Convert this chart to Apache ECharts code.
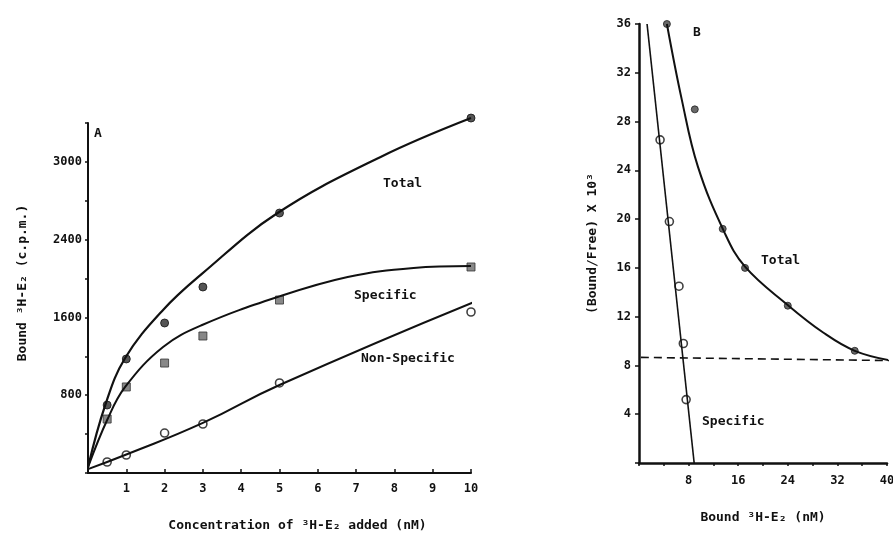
<!DOCTYPE html>
<html>
<head>
<meta charset="utf-8">
<script src="https://cdn.jsdelivr.net/npm/echarts@6/dist/echarts.min.js"></script>
<style>html,body{margin:0;background:#fff}</style>
</head>
<body>
<div id="main" style="width:893px;height:534px;"></div>
<script>
// ---- panel A : bound 3H-E2 (c.p.m.) vs concentration added (nM)
var concA = [0.5, 1, 2, 3, 5, 10];
var totalA = [699, 1173, 1543, 1913, 2674, 3651];
var specificA = [555, 885, 1131, 1409, 1779, 2119];
var nonSpecificA = [113, 185, 411, 504, 926, 1656];

// fitted curves as drawn in the figure
var totalCurveAX = [0, 0.45, 0.97, 1.96, 2.98, 4.95, 7.64, 10];
var totalCurveAY = [60, 699, 1183, 1677, 2050, 2674, 3251, 3651];
var specCurveAX = [0, 0.5, 0.97, 1.96, 2.98, 4.95, 6.78, 8.5, 10];
var specCurveAY = [60, 545, 885, 1296, 1522, 1810, 2016, 2109, 2129];
var nonSpecLineAX = [0, 1, 3, 5, 10.08];
var nonSpecLineAY = [40, 190, 515, 905, 1759];

var xTicksA = [1, 2, 3, 4, 5, 6, 7, 8, 9, 10];
var yTickValsA = [800, 1600, 2400, 3200];
var yTickLabelsA = ['800', '1600', '2400', '3000'];

// ---- panel B : Scatchard plot
var totalBX = [4.5, 9.0, 13.5, 17.1, 24.0, 34.8];
var totalBY = [36.0, 29.0, 19.2, 16.0, 12.9, 9.2];
var specBX = [3.4, 4.9, 6.45, 7.15, 7.6];
var specBY = [26.5, 19.8, 14.5, 9.8, 5.2];

var totalCurveBX = [4.5, 6.9, 9.5, 13.7, 17.1, 24.0, 29.7, 34.8, 40.7];
var totalCurveBY = [36.0, 29.8, 24.3, 19.0, 16.1, 12.95, 10.7, 9.2, 8.4];
var specLineBX = [1.3, 8.9];
var specLineBY = [36, 0];
var nonSpecLevelBX = [0.3, 40.8];
var nonSpecLevelBY = [8.66, 8.4];

var xTickLabelsB = [8, 16, 24, 32, 40];
var yTickLabelsB = [4, 8, 12, 16, 20, 24, 28, 32, 36];

function pairs(xs, ys) {
    return xs.map(function (x, i) { return [x, ys[i]]; });
}

var ink = '#111';
var font = 'DejaVu Sans Mono';
var tickFont = { color: ink, fontFamily: font, fontWeight: 'bold', fontSize: 12 };
var noteFont = 'bold 13px "DejaVu Sans Mono"';

var myChart = echarts.init(document.getElementById('main'));

var option = {
    backgroundColor: '#fff',
    animation: false,
    grid: [
        { left: 88, top: 123, width: 383, height: 350, outerBoundsMode: 'none' },
        { left: 639, top: 24, width: 248, height: 439, outerBoundsMode: 'none' }
    ],
    xAxis: [{
        gridIndex: 0, type: 'value', min: 0, max: 10, interval: 1,
        name: 'Concentration of \u00b3H-E\u2082 added (nM)',
        nameLocation: 'middle', nameGap: 46,
        nameTextStyle: { color: ink, fontFamily: font, fontSize: 13, fontWeight: 'bold', padding: [0, 0, 0, 36] },
        axisLine: { lineStyle: { color: ink, width: 2 } },
        axisTick: { inside: true, length: 4, lineStyle: { color: ink, width: 1.5 } },
        splitLine: { show: false },
        axisLabel: Object.assign({ margin: 10, formatter: function (v) {
            return xTicksA.indexOf(v) < 0 ? '' : String(v);
        } }, tickFont)
    }, {
        gridIndex: 1, type: 'value', min: 0, max: 40, interval: 4,
        name: 'Bound \u00b3H-E\u2082 (nM)',
        nameLocation: 'middle', nameGap: 48,
        nameTextStyle: { color: ink, fontFamily: font, fontSize: 13, fontWeight: 'bold' },
        axisLine: { lineStyle: { color: ink, width: 2.5 } },
        axisTick: { length: 3, lineStyle: { color: ink, width: 1.5 } },
        splitLine: { show: false },
        axisLabel: Object.assign({ margin: 12, formatter: function (v) {
            return xTickLabelsB.indexOf(v) < 0 ? '' : String(v);
        } }, tickFont)
    }],
    yAxis: [{
        gridIndex: 0, type: 'value', min: 0, max: 3600, interval: 400,
        name: 'Bound \u00b3H-E\u2082 (c.p.m.)',
        nameLocation: 'middle', nameGap: 59,
        nameTextStyle: { color: ink, fontFamily: font, fontSize: 13, fontWeight: 'bold', padding: [0, 0, 0, 30] },
        axisLine: { show: true, lineStyle: { color: ink, width: 2 } },
        axisTick: { show: true, length: 3, lineStyle: { color: ink, width: 1.5 } },
        splitLine: { show: false },
        axisLabel: Object.assign({ margin: 6, formatter: function (v) {
            var i = yTickValsA.indexOf(v);
            return i < 0 ? '' : yTickLabelsA[i];
        } }, tickFont)
    }, {
        gridIndex: 1, type: 'value', min: 0, max: 36, interval: 4,
        name: '(Bound/Free) X 10\u00b3',
        nameLocation: 'middle', nameGap: 40,
        nameTextStyle: { color: ink, fontFamily: font, fontSize: 13, fontWeight: 'bold' },
        axisLine: { show: true, lineStyle: { color: ink, width: 2.5 } },
        axisTick: { show: true, length: 4, lineStyle: { color: ink, width: 1.5 } },
        splitLine: { show: false },
        axisLabel: Object.assign({ margin: 8, formatter: function (v) {
            return yTickLabelsB.indexOf(v) < 0 ? '' : String(v);
        } }, tickFont)
    }],
    graphic: [
        { type: 'text', left: 94, top: 127, style: { text: 'A', fill: ink, font: noteFont } },
        { type: 'text', left: 383, top: 177, style: { text: 'Total', fill: ink, font: noteFont } },
        { type: 'text', left: 354, top: 289, style: { text: 'Specific', fill: ink, font: noteFont } },
        { type: 'text', left: 361, top: 352, style: { text: 'Non-Specific', fill: ink, font: noteFont } },
        { type: 'text', left: 693, top: 26, style: { text: 'B', fill: ink, font: noteFont } },
        { type: 'text', left: 761, top: 254, style: { text: 'Total', fill: ink, font: noteFont } },
        { type: 'text', left: 702, top: 415, style: { text: 'Specific', fill: ink, font: noteFont } }
    ],
    series: [
        // panel A curves
        { type: 'line', xAxisIndex: 0, yAxisIndex: 0, data: pairs(totalCurveAX, totalCurveAY),
          smooth: 0.4, showSymbol: false, clip: false,
          lineStyle: { color: ink, width: 2.2 } },
        { type: 'line', xAxisIndex: 0, yAxisIndex: 0, data: pairs(specCurveAX, specCurveAY),
          smooth: 0.4, showSymbol: false, clip: false,
          lineStyle: { color: ink, width: 2 } },
        { type: 'line', xAxisIndex: 0, yAxisIndex: 0, data: pairs(nonSpecLineAX, nonSpecLineAY),
          smooth: 0.5, showSymbol: false, clip: false,
          lineStyle: { color: ink, width: 2 } },
        // panel A points
        { type: 'scatter', xAxisIndex: 0, yAxisIndex: 0, data: pairs(concA, totalA), clip: false,
          symbol: 'circle', symbolSize: 8, itemStyle: { color: '#2a2a2a', borderColor: ink, borderWidth: 1 } },
        { type: 'scatter', xAxisIndex: 0, yAxisIndex: 0, data: pairs(concA, specificA), clip: false,
          symbol: 'rect', symbolSize: 8, itemStyle: { color: '#6a6a6a', borderColor: '#333', borderWidth: 1 } },
        { type: 'scatter', xAxisIndex: 0, yAxisIndex: 0, data: pairs(concA, nonSpecificA), clip: false,
          symbol: 'circle', symbolSize: 8, itemStyle: { color: '#fff', borderColor: ink, borderWidth: 1.6 } },
        // panel B lines
        { type: 'line', xAxisIndex: 1, yAxisIndex: 1, data: pairs(totalCurveBX, totalCurveBY),
          smooth: 0.4, showSymbol: false, clip: false,
          lineStyle: { color: ink, width: 2 } },
        { type: 'line', xAxisIndex: 1, yAxisIndex: 1, data: pairs(specLineBX, specLineBY),
          showSymbol: false, clip: false, lineStyle: { color: ink, width: 1.6 } },
        { type: 'line', xAxisIndex: 1, yAxisIndex: 1, data: pairs(nonSpecLevelBX, nonSpecLevelBY),
          showSymbol: false, clip: false, lineStyle: { color: ink, width: 1.6, type: [8, 5] } },
        // panel B points
        { type: 'scatter', xAxisIndex: 1, yAxisIndex: 1, data: pairs(totalBX, totalBY), clip: false,
          symbol: 'circle', symbolSize: 7, itemStyle: { color: '#444', borderColor: '#222', borderWidth: 1 } },
        { type: 'scatter', xAxisIndex: 1, yAxisIndex: 1, data: pairs(specBX, specBY), clip: false,
          symbol: 'circle', symbolSize: 8, itemStyle: { color: '#fff', borderColor: ink, borderWidth: 1.6 } }
    ]
};

myChart.setOption(option);
</script>
</body>
</html>
